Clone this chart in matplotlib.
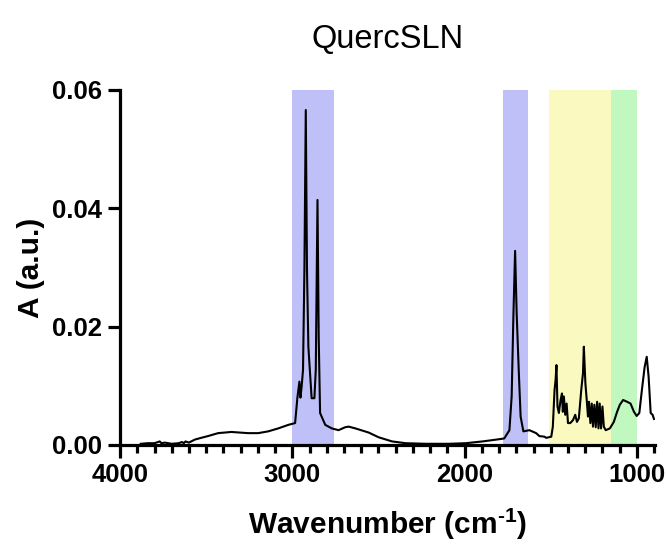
"""
Espectro FTIR de QuercSLN con bandas resaltadas.
"""

import matplotlib
matplotlib.use("Agg")
import matplotlib.pyplot as plt
from matplotlib.ticker import MultipleLocator

plt.rcParams['font.family'] = ['Liberation Sans', 'DejaVu Sans']
plt.rcParams['mathtext.fontset'] = 'custom'
plt.rcParams['mathtext.rm'] = 'Liberation Sans:bold'
plt.rcParams['mathtext.it'] = 'Liberation Sans:bold'
plt.rcParams['mathtext.bf'] = 'Liberation Sans:bold'

# ---------------------------
# Datos leidos del espectro
numero_onda = [3880, 3840, 3800, 3770, 3760, 3740, 3700, 3660, 3640, 3630, 3620,
               3600, 3567, 3530, 3490, 3431, 3354, 3257, 3198, 3140, 3082, 3023,
               2984, 2971, 2959, 2953, 2946, 2938, 2930, 2922, 2915, 2907, 2888,
               2872, 2864, 2854, 2847, 2839, 2809, 2771, 2732, 2693, 2673, 2634,
               2557, 2499, 2421, 2343, 2226, 2090, 1993, 1896, 1818, 1770, 1740,
               1727, 1717, 1707, 1698, 1686, 1675, 1659, 1624, 1585, 1566, 1536,
               1527, 1497, 1488, 1478, 1472, 1467, 1461, 1453, 1443, 1435, 1430,
               1424, 1416, 1408, 1400, 1387, 1371, 1358, 1348, 1337, 1323, 1313,
               1308, 1299, 1292, 1284, 1278, 1270, 1262, 1255, 1247, 1239, 1231,
               1223, 1216, 1208, 1200, 1192, 1181, 1157, 1134, 1115, 1099, 1080,
               1057, 1037, 1017, 1001, 986, 971, 955, 943, 932, 920, 909, 901]
absorbancia = [0.0002, 0.0003, 0.0003, 0.0006, 0.0003, 0.0004, 0.0002, 0.0003,
               0.0005, 0.0003, 0.0006, 0.0004, 0.0009, 0.0012, 0.0015, 0.0020,
               0.0022, 0.0020, 0.0020, 0.0023, 0.0028, 0.0034, 0.0037, 0.0079,
               0.0107, 0.0080, 0.0099, 0.0127, 0.0296, 0.0566, 0.0296, 0.0166,
               0.0079, 0.0079, 0.0127, 0.0414, 0.0183, 0.0054, 0.0034, 0.0028,
               0.0025, 0.0030, 0.0031, 0.0028, 0.0021, 0.0013, 0.0006, 0.0003,
               0.0002, 0.0002, 0.0003, 0.0006, 0.0009, 0.0011, 0.0025, 0.0082,
               0.0217, 0.0328, 0.0223, 0.0127, 0.0048, 0.0023, 0.0025, 0.0020,
               0.0015, 0.0014, 0.0012, 0.0014, 0.0031, 0.0093, 0.0110, 0.0135,
               0.0065, 0.0054, 0.0076, 0.0087, 0.0056, 0.0082, 0.0051, 0.0070,
               0.0037, 0.0037, 0.0042, 0.0051, 0.0039, 0.0045, 0.0093, 0.0121,
               0.0166, 0.0104, 0.0079, 0.0048, 0.0073, 0.0037, 0.0070, 0.0031,
               0.0068, 0.0030, 0.0073, 0.0028, 0.0070, 0.0028, 0.0065, 0.0031,
               0.0025, 0.0028, 0.0039, 0.0056, 0.0068, 0.0076, 0.0073, 0.0070,
               0.0056, 0.0049, 0.0054, 0.0093, 0.0132, 0.0149, 0.0115, 0.0054,
               0.0051, 0.0044]

# Bandas resaltadas (inicio, fin, color)
bandas_inicio = [3000, 1780, 1510, 1150]
bandas_fin = [2760, 1630, 1150, 1000]
bandas_color = ['#c0c0f8', '#c0c0f8', '#fafac0', '#c0f8c0']

fig = plt.figure(figsize=(6.67, 5.48), dpi=100)
ax = fig.add_axes([0.18, 0.188, 0.802, 0.648])

for x0, x1, c in zip(bandas_inicio, bandas_fin, bandas_color):
    ax.axvspan(x0, x1, ymin=0, ymax=1, color=c, lw=0, zorder=0)

ax.plot(numero_onda, absorbancia, color='black', lw=1.5, zorder=2)

ax.set_xlim(4000, 895)
ax.set_ylim(0, 0.06)
ax.xaxis.set_major_locator(MultipleLocator(1000))
ax.xaxis.set_minor_locator(MultipleLocator(100))
ax.yaxis.set_major_locator(MultipleLocator(0.02))
ax.yaxis.set_major_formatter(plt.FuncFormatter(lambda v, p: f"{v:.2f}"))

for s in ['top', 'right']:
    ax.spines[s].set_visible(False)
for s in ['left', 'bottom']:
    ax.spines[s].set_linewidth(2.3)

ax.tick_params(axis='both', which='major', length=9, width=2.3, labelsize=18.5, pad=4)
ax.tick_params(axis='x', which='minor', length=6, width=2.3)
for lab in ax.get_xticklabels() + ax.get_yticklabels():
    lab.set_fontweight('bold')

ax.set_xlabel(r"Wavenumber (cm$^{\text{-1}}$)", fontsize=21.5, fontweight='bold', labelpad=14)
ax.set_ylabel("A (a.u.)", fontsize=21.5, fontweight='bold', labelpad=5)
ax.set_title("QuercSLN", fontsize=23.5, pad=30)

fig.savefig("out.png", dpi=100)
